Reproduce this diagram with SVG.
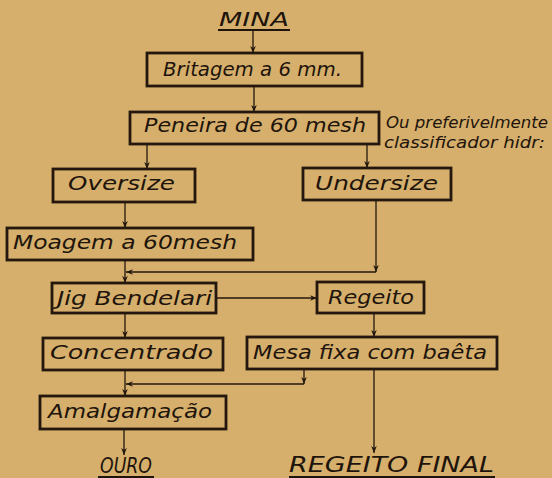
<svg xmlns="http://www.w3.org/2000/svg" width="552" height="478" viewBox="0 0 552 478">
<defs>
<marker id="ah" viewBox="0 0 10 10" refX="10" refY="5" markerWidth="7" markerHeight="7" markerUnits="userSpaceOnUse" orient="auto">
<path d="M0,1 L10,5 L0,9 L3,5 Z" fill="#24170d"/>
</marker>
<style>
.box{fill:none;stroke:#24170d;stroke-width:2.8}
.lbl{font-family:"DejaVu Sans","Liberation Sans",sans-serif;font-style:oblique;font-size:19px;fill:#1e140c}
.big{font-size:21px}
.side{font-family:"DejaVu Sans","Liberation Sans",sans-serif;font-style:oblique;font-size:16px;fill:#1e140c}
.con{fill:none;stroke:#24170d;stroke-width:1.3;marker-end:url(#ah)}
.ul{stroke:#1e140c;stroke-width:2}
</style>
</defs>
<rect width="552" height="478" fill="#d5af6b"/>
<g id="connectors">
<line class="con" x1="253" y1="31" x2="253" y2="53"/>
<line class="con" x1="254" y1="86" x2="254" y2="112"/>
<line class="con" x1="147" y1="144" x2="147" y2="169"/>
<line class="con" x1="367" y1="144" x2="367" y2="168"/>
<line class="con" x1="125" y1="202" x2="125" y2="228"/>
<line class="con" x1="376" y1="200" x2="376" y2="272"/>
<line class="con" x1="376" y1="272" x2="126" y2="272"/>
<line class="con" x1="125" y1="260" x2="125" y2="283"/>
<line class="con" x1="216" y1="298" x2="317" y2="298"/>
<line class="con" x1="125" y1="313" x2="125" y2="338"/>
<line class="con" x1="374" y1="313" x2="374" y2="337"/>
<line class="con" x1="125" y1="370" x2="125" y2="396"/>
<line class="con" x1="304" y1="369" x2="304" y2="384"/>
<line class="con" x1="304" y1="384" x2="126" y2="384"/>
<line class="con" x1="124" y1="429" x2="124" y2="455"/>
<line class="con" x1="374" y1="369" x2="374" y2="453"/>
</g>
<g id="mina">
<text class="lbl" x="219" y="26" textLength="70" lengthAdjust="spacingAndGlyphs">MINA</text>
<line class="ul" x1="218" y1="30" x2="290" y2="30"/>
</g>
<g id="britagem">
<rect class="box" x="147" y="53" width="215" height="33"/>
<text class="lbl" x="163" y="76" textLength="179" lengthAdjust="spacingAndGlyphs">Britagem a 6 mm.</text>
</g>
<g id="peneira">
<rect class="box" x="130" y="112" width="249" height="32"/>
<text class="lbl" x="144" y="132" textLength="222" lengthAdjust="spacingAndGlyphs">Peneira de 60 mesh</text>
</g>
<g id="nota">
<text class="side" x="386" y="128" textLength="162" lengthAdjust="spacingAndGlyphs">Ou preferivelmente</text>
<text class="side" x="384" y="148" textLength="161" lengthAdjust="spacingAndGlyphs">classificador hidr:</text>
</g>
<g id="oversize">
<rect class="box" x="53" y="169" width="142" height="33"/>
<text class="lbl" x="68" y="190" textLength="107" lengthAdjust="spacingAndGlyphs">Oversize</text>
</g>
<g id="undersize">
<rect class="box" x="303" y="168" width="148" height="32"/>
<text class="lbl" x="315" y="190" textLength="123" lengthAdjust="spacingAndGlyphs">Undersize</text>
</g>
<g id="moagem">
<rect class="box" x="7" y="228" width="246" height="32"/>
<text class="lbl" x="13" y="249" textLength="224" lengthAdjust="spacingAndGlyphs">Moagem a 60mesh</text>
</g>
<g id="jig">
<rect class="box" x="52" y="283" width="164" height="30"/>
<text class="lbl" x="57" y="305" textLength="155" lengthAdjust="spacingAndGlyphs">Jig Bendelari</text>
</g>
<g id="regeito">
<rect class="box" x="317" y="282" width="107" height="31"/>
<text class="lbl" x="328" y="304" textLength="86" lengthAdjust="spacingAndGlyphs">Regeito</text>
</g>
<g id="concentrado">
<rect class="box" x="43" y="338" width="180" height="32"/>
<text class="lbl" x="50" y="359" textLength="163" lengthAdjust="spacingAndGlyphs">Concentrado</text>
</g>
<g id="mesa">
<rect class="box" x="247" y="337" width="250" height="32"/>
<text class="lbl" x="253" y="359" textLength="234" lengthAdjust="spacingAndGlyphs">Mesa fixa com baêta</text>
</g>
<g id="amalgamacao">
<rect class="box" x="40" y="396" width="186" height="33"/>
<text class="lbl" x="48" y="418" textLength="164" lengthAdjust="spacingAndGlyphs">Amalgamação</text>
</g>
<g id="ouro">
<text class="lbl big" x="100" y="473" textLength="52" lengthAdjust="spacingAndGlyphs">OURO</text>
<line class="ul" x1="98" y1="477" x2="154" y2="477"/>
</g>
<g id="regeito-final">
<text class="lbl big" x="289" y="472" textLength="205" lengthAdjust="spacingAndGlyphs">REGEITO  FINAL</text>
<line class="ul" x1="289" y1="477" x2="495" y2="477"/>
</g>
</svg>
